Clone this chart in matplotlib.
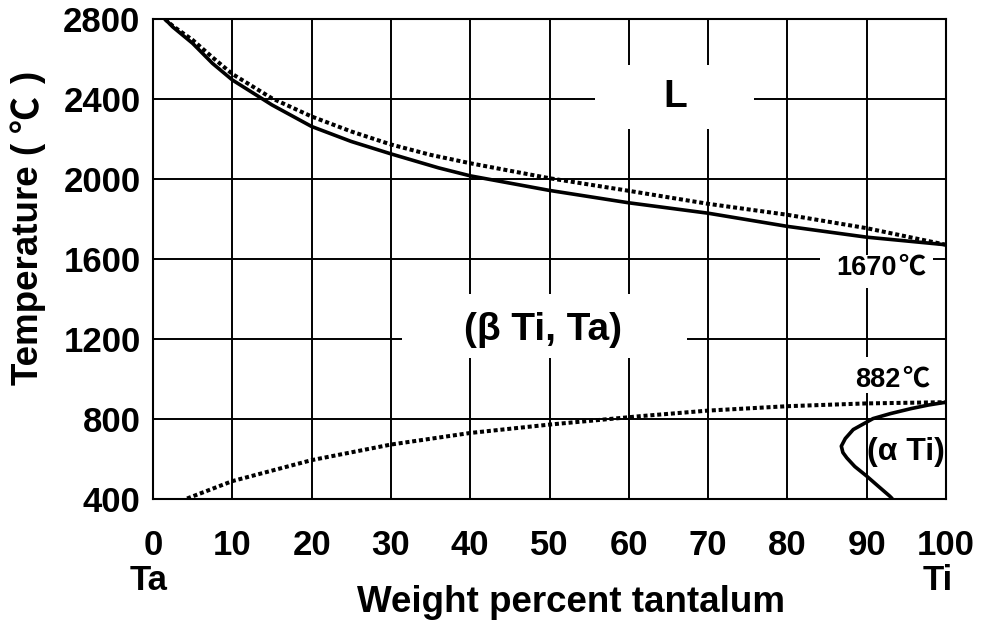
import matplotlib
matplotlib.use("Agg")
import matplotlib.pyplot as plt
from matplotlib.patches import Rectangle
from matplotlib import transforms

# Ta-Ti phase diagram: composition (wt% Ta axis) vs temperature (°C)
liquidus_x = [1.5, 2.5, 5, 7.5, 10, 15, 20, 25, 30, 36, 40, 50, 60, 70, 80, 90, 100]
liquidus_t = [2800, 2760, 2678, 2578, 2495, 2370, 2262, 2187, 2125, 2055, 2015, 1942, 1880, 1828, 1762, 1708, 1670]

solidus_x = [1.5, 2.5, 5, 7.5, 10, 15, 20, 25, 30, 35, 40, 50, 60, 70, 80, 90, 100]
solidus_t = [2800, 2765, 2695, 2608, 2525, 2403, 2312, 2237, 2172, 2120, 2078, 2003, 1940, 1875, 1820, 1753, 1670]

beta_transus_x = [4.3, 10, 20, 30, 40, 50, 61.4, 70, 80, 90, 100]
beta_transus_t = [400, 487, 592, 670, 728, 770, 812, 840, 862, 876, 882]

alpha_transus_t = [882, 868, 850, 825, 800, 745, 700, 662, 630, 603, 560, 512, 460, 412, 400]
alpha_transus_x = [100, 97.8, 95.6, 93.0, 90.8, 88.3, 87.3, 86.8, 87.0, 87.5, 88.5, 90.0, 91.5, 92.9, 93.2]

x_ticks = [0, 10, 20, 30, 40, 50, 60, 70, 80, 90, 100]
y_ticks = [400, 800, 1200, 1600, 2000, 2400, 2800]

LATIN = ["Liberation Sans", "DejaVu Sans"]
CJK = ["Noto Sans CJK SC", "DejaVu Sans"]
plt.rcParams["font.family"] = LATIN
plt.rcParams["font.weight"] = "bold"

W, H = 981, 621
fig = plt.figure(figsize=(W / 100, H / 100), dpi=100)
ax = fig.add_axes([153 / W, (H - 498.5) / H, 793 / W, 479.5 / H])

ax.set_xlim(0, 100)
ax.set_ylim(400, 2800)
ax.set_xticks(x_ticks)
ax.set_yticks(y_ticks)
ax.set_xticklabels([str(v) for v in x_ticks])
ax.set_yticklabels([str(v) for v in y_ticks])
ax.tick_params(axis="both", length=0, labelsize=25)
ax.tick_params(axis="x", pad=22)
ax.tick_params(axis="y", pad=9)
for lab in ax.get_xticklabels() + ax.get_yticklabels():
    lab.set_fontweight("bold")

ax.set_axisbelow(True)
ax.grid(True, color="black", linewidth=1.4)
for sp in ax.spines.values():
    sp.set_linewidth(1.5)
    sp.set_color("black")
    sp.set_zorder(5)

# Curves
solid_kw = dict(color="black", linewidth=2.6, solid_capstyle="round",
                solid_joinstyle="round", zorder=3)
dash_kw = dict(color="black", linewidth=2.9, linestyle=(0, (1.0, 0.7)),
               dash_capstyle="butt", zorder=3)
ax.plot(liquidus_x, liquidus_t, **solid_kw)
ax.plot(solidus_x, solidus_t, **dash_kw)
ax.plot(beta_transus_x, beta_transus_t, **dash_kw)
ax.plot(alpha_transus_x, alpha_transus_t, **solid_kw)

# White backgrounds behind the region labels (interrupt the grid)
label_boxes = [
    (55.7, 2250, 20.1, 320),   # L
    (31.4, 1105, 35.9, 320),   # (β Ti, Ta)
    (84.1, 1455, 14.3, 165),   # 1670℃
    (87.9, 930, 10.7, 180),    # 882℃
]
for x0, y0, w, h in label_boxes:
    ax.add_patch(Rectangle((x0, y0), w, h, facecolor="white", edgecolor="none", zorder=1))

ax.text(65.8, 2410, "L", fontsize=28, fontweight="bold", ha="center", va="center", zorder=4)
ax.text(49.2, 1245, "(β Ti, Ta)", fontsize=28, fontweight="bold", ha="center", va="center", zorder=4)
ax.text(95.0, 635, "(α Ti)", fontsize=23, fontweight="bold", ha="center", va="center", zorder=4)

# Element names under the axis ends
trans = transforms.blended_transform_factory(ax.transData, fig.transFigure)
ax.text(-0.5, 1 - 590 / H, "Ta", transform=trans, fontsize=25, fontweight="bold",
        ha="center", va="baseline", clip_on=False)
ax.text(98.9, 1 - 590 / H, "Ti", transform=trans, fontsize=25, fontweight="bold",
        ha="center", va="baseline", clip_on=False)

fig.text(571 / W, 1 - 611.5 / H, "Weight percent tantalum", fontsize=26.5,
         fontweight="bold", ha="center", va="baseline")

renderer = fig.canvas.get_renderer()


def chained_text(pieces, x_px, y_px, size, rotation=0, center=False):
    """Lay out text pieces (each with its own font family) along one baseline.

    Each piece is (text, family, gap_after_px). x_px / y_px are pixel
    positions measured from the top-left of the figure.
    """
    texts = []
    for s, fam, _ in pieces:
        t = fig.text(0, 0, s, family=fam, fontsize=size, fontweight="bold",
                     rotation=rotation, rotation_mode="anchor",
                     ha="left", va="baseline", zorder=4)
        texts.append(t)
    steps = []
    for t, (_, _, gap) in zip(texts, pieces):
        bb = t.get_window_extent(renderer)
        steps.append((bb.height if rotation == 90 else bb.width) + gap)
    total = sum(steps) - pieces[-1][2]
    pos = -total / 2 if center else 0.0
    for t, st in zip(texts, steps):
        if rotation == 90:
            t.set_position((x_px / W, (H - y_px + pos) / H))
        else:
            t.set_position(((x_px + pos) / W, (H - y_px) / H))
        pos += st
    return texts


chained_text([("Temperature (", LATIN, 11), ("℃", CJK, 11), (")", LATIN, 0)],
             38, 385, 26.5, rotation=90)
chained_text([("1670", LATIN, 2), ("℃", CJK, 0)], 881, 275, 19.5, center=True)
chained_text([("882", LATIN, 2), ("℃", CJK, 0)], 892, 387, 19.5, center=True)

fig.savefig("out.png", dpi=100, facecolor="white")
